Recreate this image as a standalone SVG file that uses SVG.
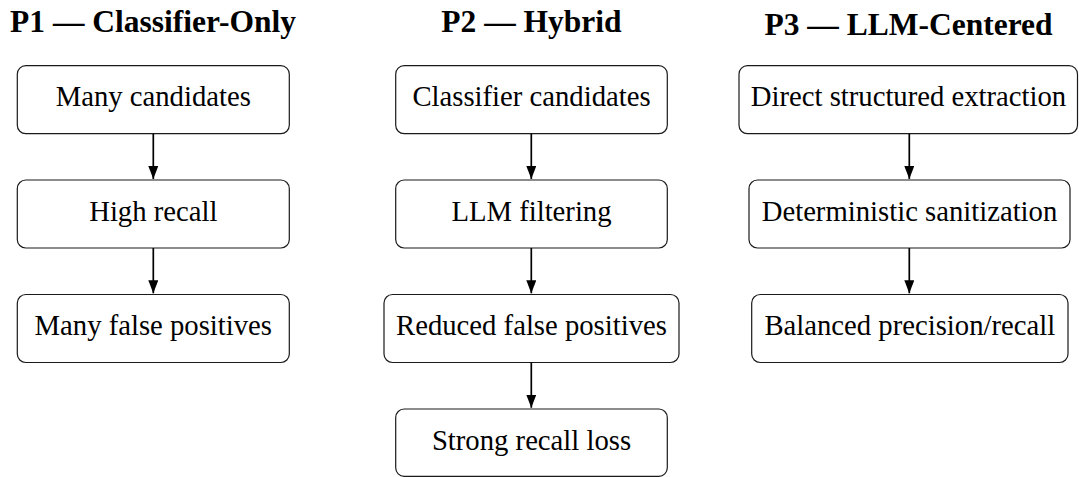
<svg xmlns="http://www.w3.org/2000/svg" width="1079" height="477" viewBox="0 0 1079 477">
  <defs>
    <marker id="arrowhead" viewBox="0 0 13 10" refX="13" refY="5" markerWidth="13" markerHeight="10" markerUnits="userSpaceOnUse" orient="auto">
      <path d="M0,0 L13,5 L0,10 Z" fill="#000"/>
    </marker>
    <style>
      .title { font-family: 'Liberation Serif', 'Times New Roman', serif; font-weight: bold; font-size: 31.5px; fill: #000; text-anchor: middle; }
      .box { fill: #fff; stroke: #1a1a1a; stroke-width: 1.2; }
      .label { font-family: 'Liberation Serif', 'Times New Roman', serif; font-size: 28.7px; fill: #000; text-anchor: middle; }
      .edge { fill: none; stroke: #000; stroke-width: 1.7; marker-end: url(#arrowhead); }
    </style>
  </defs>
  <rect width="1079" height="477" fill="#fff"/>

  <!-- column headings -->
  <g id="headings">
    <text class="title" x="153" y="32.3">P1 — Classifier-Only</text>
    <text class="title" x="531.5" y="32.3">P2 — Hybrid</text>
    <text class="title" x="908.5" y="35">P3 — LLM-Centered</text>
  </g>

  <!-- P1 pipeline -->
  <g id="p1-candidates">
    <rect class="box" x="17.3" y="65.7" width="272" height="68" rx="8.5"/>
    <text class="label" x="153.3" y="106.3">Many candidates</text>
  </g>
  <g id="p1-recall">
    <rect class="box" x="17.3" y="180" width="272" height="68" rx="8.5"/>
    <text class="label" x="153.3" y="220.8">High recall</text>
  </g>
  <g id="p1-false-positives">
    <rect class="box" x="17.3" y="294.5" width="272" height="68" rx="8.5"/>
    <text class="label" x="153.3" y="335.2">Many false positives</text>
  </g>

  <!-- P2 pipeline -->
  <g id="p2-candidates">
    <rect class="box" x="395.7" y="65.7" width="271.6" height="68" rx="8.5"/>
    <text class="label" x="531.5" y="106.3">Classifier candidates</text>
  </g>
  <g id="p2-filtering">
    <rect class="box" x="395.7" y="180" width="271.6" height="68" rx="8.5"/>
    <text class="label" x="531.5" y="220.8">LLM filtering</text>
  </g>
  <g id="p2-reduced">
    <rect class="box" x="384" y="294.5" width="295" height="68" rx="8.5"/>
    <text class="label" x="531.5" y="335.2">Reduced false positives</text>
  </g>
  <g id="p2-recall-loss">
    <rect class="box" x="395.7" y="409" width="271.6" height="67.3" rx="8.5"/>
    <text class="label" x="531.5" y="449.6">Strong recall loss</text>
  </g>

  <!-- P3 pipeline -->
  <g id="p3-extraction">
    <rect class="box" x="739" y="65.7" width="338.5" height="68" rx="8.5"/>
    <text class="label" x="908.5" y="106.3">Direct structured extraction</text>
  </g>
  <g id="p3-sanitization">
    <rect class="box" x="749" y="180" width="321" height="68" rx="8.5"/>
    <text class="label" x="909.5" y="220.8">Deterministic sanitization</text>
  </g>
  <g id="p3-balanced">
    <rect class="box" x="751.7" y="294.5" width="316.3" height="68" rx="8.5"/>
    <text class="label" x="909.8" y="335.2">Balanced precision/recall</text>
  </g>

  <!-- connectors -->
  <g id="connectors">
    <line class="edge" x1="153.3" y1="133.7" x2="153.3" y2="179"/>
    <line class="edge" x1="153.3" y1="248" x2="153.3" y2="293.3"/>
    <line class="edge" x1="531.3" y1="133.7" x2="531.3" y2="179"/>
    <line class="edge" x1="531.3" y1="248" x2="531.3" y2="293.3"/>
    <line class="edge" x1="531.3" y1="362.5" x2="531.3" y2="407.8"/>
    <line class="edge" x1="909.3" y1="133.7" x2="909.3" y2="179"/>
    <line class="edge" x1="909.3" y1="248" x2="909.3" y2="293.3"/>
  </g>
</svg>
